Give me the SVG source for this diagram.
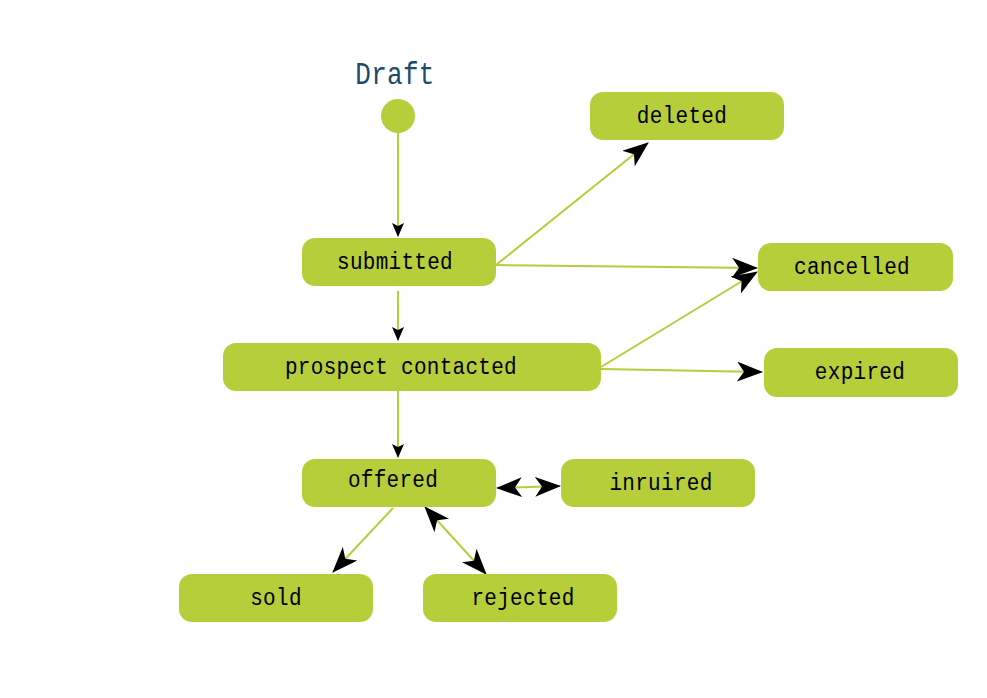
<svg xmlns="http://www.w3.org/2000/svg" width="987" height="698" viewBox="0 0 987 698">
<style>
.node rect{fill:#b5ce3a}
.node text{font-family:"Liberation Mono","DejaVu Sans Mono",monospace;font-size:21px;fill:#000;text-anchor:middle;letter-spacing:0.3px}
.edge{stroke:#b5ce3a;stroke-width:2;fill:none}
.big{marker-end:url(#ah)}
.sm{marker-end:url(#as)}
.both{marker-start:url(#ah);marker-end:url(#ah)}
</style>
<defs>
<marker id="ah" markerUnits="userSpaceOnUse" markerWidth="26" markerHeight="20" refX="25" refY="10" orient="auto-start-reverse" viewBox="0 0 26 20">
<path d="M0,0 L26,10 L0,20 L7,10 z" fill="#000"/>
</marker>
<marker id="as" markerUnits="userSpaceOnUse" markerWidth="14" markerHeight="12" refX="13" refY="6" orient="auto" viewBox="0 0 14 12">
<path d="M0,0 L14,6 L0,12 L3,6 z" fill="#000"/>
</marker>
</defs>
<rect width="987" height="698" fill="#fff"/>
<g id="connectors">
<line class="edge sm" x1="398" y1="133" x2="398" y2="236"/>
<line class="edge big" x1="496" y1="265" x2="648" y2="143"/>
<line class="edge big" x1="496" y1="265" x2="757" y2="268"/>
<line class="edge sm" x1="398" y1="291" x2="398" y2="340"/>
<line class="edge big" x1="601" y1="367" x2="757" y2="272"/>
<line class="edge big" x1="601" y1="369" x2="762" y2="372"/>
<line class="edge sm" x1="398" y1="391" x2="398" y2="457"/>
<line class="edge both" x1="497" y1="488" x2="560" y2="486"/>
<line class="edge big" x1="393" y1="508" x2="333" y2="572"/>
<line class="edge both" x1="425" y1="507" x2="486" y2="574"/>
</g>
<g id="draft" class="node">
<circle cx="398" cy="116" r="17" fill="#b5ce3a"/>
<text x="395" y="84" style="font-size:26px;fill:#1b4a6b" transform="translate(395 84) scale(1 1.2) translate(-395 -84)">Draft</text>
</g>
<g id="deleted" class="node"><rect x="590" y="92" width="194" height="48" rx="13"/><text x="682" y="123" transform="translate(0 123) scale(1 1.15) translate(0 -123)">deleted</text></g>
<g id="submitted" class="node"><rect x="302" y="238" width="194" height="48" rx="13"/><text x="395" y="269" transform="translate(0 269) scale(1 1.15) translate(0 -269)">submitted</text></g>
<g id="cancelled" class="node"><rect x="758" y="243" width="195" height="48" rx="13"/><text x="852" y="274" transform="translate(0 274) scale(1 1.15) translate(0 -274)">cancelled</text></g>
<g id="prospect" class="node"><rect x="223" y="343" width="378" height="48" rx="13"/><text x="401" y="374" transform="translate(0 374) scale(1 1.15) translate(0 -374)">prospect contacted</text></g>
<g id="expired" class="node"><rect x="764" y="348" width="194" height="49" rx="13"/><text x="860" y="379" transform="translate(0 379) scale(1 1.15) translate(0 -379)">expired</text></g>
<g id="offered" class="node"><rect x="302" y="459" width="194" height="48" rx="13"/><text x="393" y="487" transform="translate(0 487) scale(1 1.15) translate(0 -487)">offered</text></g>
<g id="inruired" class="node"><rect x="561" y="459" width="194" height="48" rx="13"/><text x="661" y="490" transform="translate(0 490) scale(1 1.15) translate(0 -490)">inruired</text></g>
<g id="sold" class="node"><rect x="179" y="574" width="194" height="48" rx="13"/><text x="276" y="605" transform="translate(0 605) scale(1 1.15) translate(0 -605)">sold</text></g>
<g id="rejected" class="node"><rect x="423" y="574" width="194" height="48" rx="13"/><text x="523" y="605" transform="translate(0 605) scale(1 1.15) translate(0 -605)">rejected</text></g>
</svg>
